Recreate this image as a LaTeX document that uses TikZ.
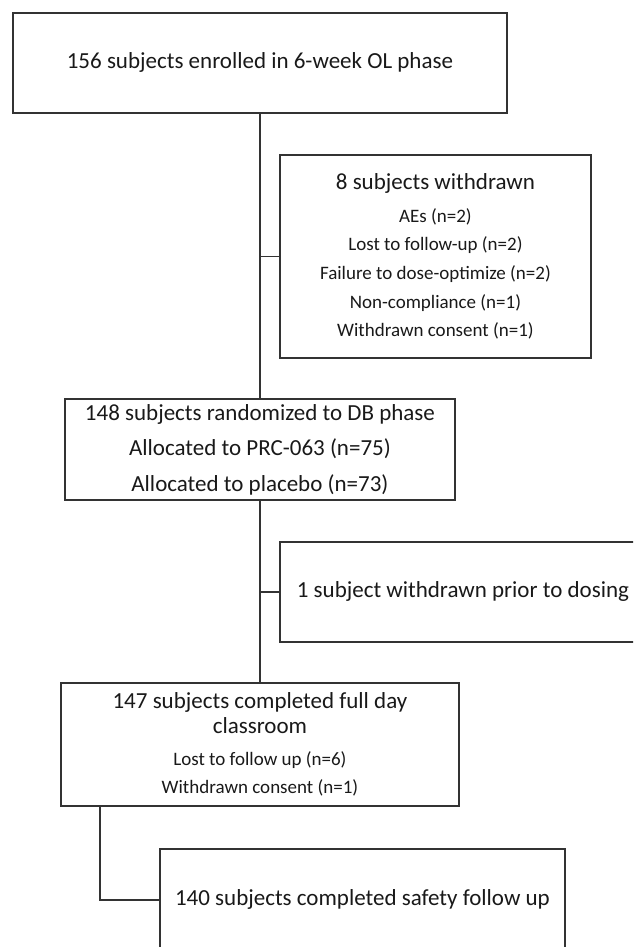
\documentclass[tikz,border=0pt]{standalone}
\usepackage{fontspec}
\setmainfont{Carlito}
\begin{document}
\begin{tikzpicture}[x=1pt, y=-1pt,
        flowbox/.style={draw=black!80, line width=1.9pt, anchor=north west, align=center, inner sep=0pt, text=black!90},
        bigtxt/.style={font=\fontsize{23}{35.5}\selectfont},
        smalltxt/.style={font=\fontsize{19}{28.7}\selectfont},
        conn/.style={draw=black!80, line width=1.9pt}]
        \path[use as bounding box, clip] (0,0) rectangle (633,947);
        \node[flowbox, bigtxt, minimum width=494pt, minimum height=100pt] (enrol) at (12,12) {156 subjects enrolled in 6-week OL phase};
        \node[flowbox, smalltxt, minimum width=311pt, minimum height=203pt] (withdr) at (279,154)
            {{\fontsize{23}{28.7}\selectfont 8 subjects withdrawn}\\[4pt]
             AEs (n=2)\\ Lost to follow-up (n=2)\\ Failure to dose-optimize (n=2)\\
             Non-compliance (n=1)\\ Withdrawn consent (n=1)};
        \node[flowbox, bigtxt, minimum width=390pt, minimum height=101pt] (rand) at (64,398)
            {148 subjects randomized to DB phase\\ Allocated to PRC-063 (n=75)\\ Allocated to placebo (n=73)};
        \node[flowbox, bigtxt, minimum width=366pt, minimum height=100pt] (predose) at (279,541) {1 subject withdrawn prior to dosing};
        \node[flowbox, font=\fontsize{19}{28}\selectfont, minimum width=398pt, minimum height=123pt] (compl) at (60,682)
            {{\fontsize{23}{25}\selectfont 147 subjects completed full day}\\[-3pt]
             {\fontsize{23}{25}\selectfont classroom}\\[4.7pt]
             Lost to follow up (n=6)\\ Withdrawn consent (n=1)};
        \node[flowbox, bigtxt, minimum width=405pt, minimum height=102pt] (safety) at (159,848) {140 subjects completed safety follow up};
        \foreach \i/\j in {enrol/rand, rand/compl}
        \draw[conn] (\i) -- (\j);
        \foreach \i/\j in {withdr/enrol, predose/rand}
        \draw[conn] (\i.west) -- (\i.west -| \j.south);
        \draw[conn] ([xshift=40pt]compl.south west) |- (safety.west);
    \end{tikzpicture}
\end{document}
